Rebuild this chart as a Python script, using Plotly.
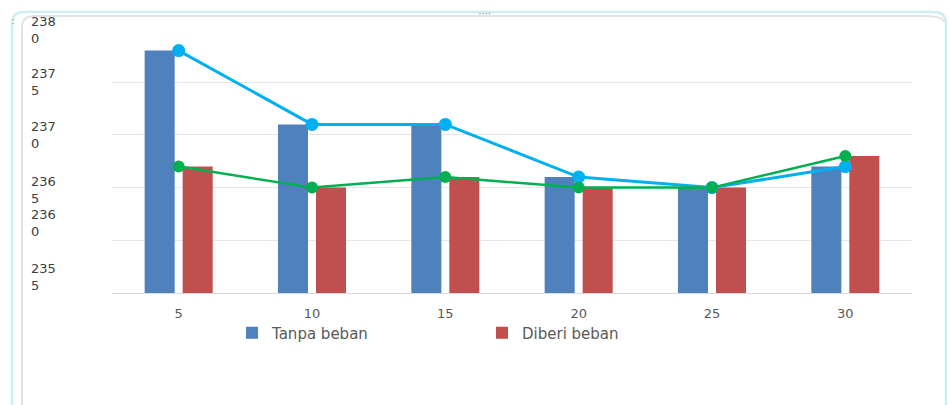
import plotly.graph_objects as go

categories = ["5", "10", "15", "20", "25", "30"]
tanpa_beban = [237.8, 237.1, 237.1, 236.6, 236.5, 236.7]
diberi_beban = [236.7, 236.5, 236.6, 236.5, 236.5, 236.8]
y_grid = [235.5, 236.0, 236.5, 237.0, 237.5, 238.0]
y_label_text = ["235<br>5", "236<br>0", "236<br>5", "237<br>0", "237<br>5", "238<br>0"]
y_label_pos = [235.65, 236.16, 236.48, 237.0, 237.5, 238.0]

W, H = 949, 405
ML, MR, MT, MB = 112, 37, 29, 112
PW, PH = W - ML - MR, H - MT - MB


def px(x):
    return (x - ML) / PW


def py(y):
    return 1 - (y - MT) / PH


fig = go.Figure()
fig.add_trace(go.Bar(x=categories, y=tanpa_beban, name="Tanpa beban",
                     marker=dict(color="#4F81BD", line=dict(width=0))))
fig.add_trace(go.Bar(x=categories, y=diberi_beban, name="Diberi beban",
                     marker=dict(color="#C0504D", line=dict(width=0))))
fig.add_trace(go.Scatter(x=categories, y=tanpa_beban, mode="lines+markers",
                         line=dict(color="#00B0F0", width=3),
                         marker=dict(color="#00B0F0", size=13),
                         showlegend=False))
fig.add_trace(go.Scatter(x=categories, y=diberi_beban, mode="lines+markers",
                         line=dict(color="#00B050", width=2.5),
                         marker=dict(color="#00B050", size=12),
                         showlegend=False))

annotations = []
for t, v in zip(y_label_text, y_label_pos):
    annotations.append(dict(x=px(29), xref="paper", y=v, yref="y", text=t,
                            showarrow=False, xanchor="left", yanchor="middle",
                            align="left",
                            font=dict(family="DejaVu Sans", size=13, color="#404040")))
annotations.append(dict(x=px(485), xref="paper", y=py(9), yref="paper", text="• • • •",
                        showarrow=False, font=dict(size=5, color="#777777")))
annotations.append(dict(x=px(10), xref="paper", y=py(12), yref="paper", text=":",
                        showarrow=False, font=dict(size=9, color="#777777")))

# outer cyan frame and inner gray frame (rounded top corners)
r = 12
outer = (f"M {px(12)},{py(420)} L {px(12)},{py(12 + r)} "
         f"Q {px(12)},{py(12)} {px(12 + r)},{py(12)} "
         f"L {px(946 - r)},{py(12)} Q {px(946)},{py(12)} {px(946)},{py(12 + r)} "
         f"L {px(946)},{py(420)}")
inner = (f"M {px(22)},{py(420)} L {px(22)},{py(16 + r)} "
         f"Q {px(22)},{py(16)} {px(22 + r)},{py(16)} "
         f"L {px(936 - r)},{py(16)} Q {px(942)},{py(16)} {px(944)},{py(22)}")

fig.update_layout(
    width=W, height=H,
    margin=dict(l=ML, r=MR, t=MT, b=MB),
    paper_bgcolor="white", plot_bgcolor="white",
    barmode="group", bargap=0.43, bargroupgap=0.21,
    showlegend=True,
    legend=dict(orientation="h", x=px(232), y=py(333), xanchor="left", yanchor="middle",
                font=dict(family="DejaVu Sans", size=15, color="#595959"),
                entrywidth=205, traceorder="normal", bgcolor="rgba(0,0,0,0)"),
    xaxis=dict(type="category", showgrid=False, showline=True, linecolor="#D9D9D9",
               linewidth=1, ticks="", ticklabelstandoff=8,
               tickfont=dict(family="DejaVu Sans", size=13, color="#595959"),
               zeroline=False),
    yaxis=dict(range=[235.5, 238.005], tickvals=y_grid, showticklabels=False,
               showgrid=True, gridcolor="#E6E6E6", gridwidth=1, zeroline=False,
               showline=False, ticks=""),
    annotations=annotations,
    shapes=[
        dict(type="path", path=outer, xref="paper", yref="paper",
             line=dict(color="#CDEFEF", width=2.5), layer="above"),
        dict(type="path", path=inner, xref="paper", yref="paper",
             line=dict(color="#E3E3E3", width=2), layer="above"),
    ],
)

fig.write_html("out.html")
